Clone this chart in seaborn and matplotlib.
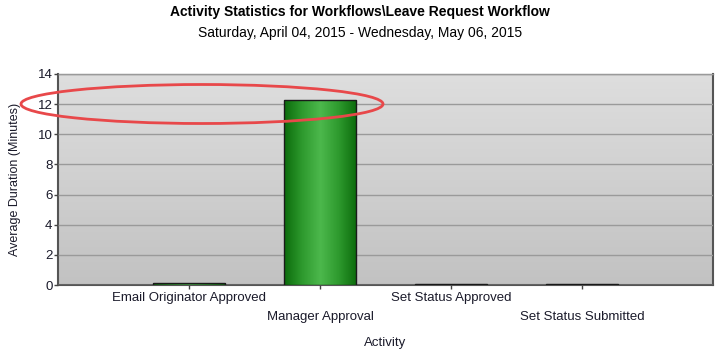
import numpy as np
import pandas as pd
import matplotlib
matplotlib.use("Agg")
import matplotlib.pyplot as plt
import seaborn as sns
from matplotlib.patches import Ellipse
from matplotlib.colors import LinearSegmentedColormap

activities = ["Email Originator Approved", "Manager Approval", "Set Status Approved", "Set Status Submitted"]
durations = [0.12, 12.25, 0.04, 0.04]
y_ticks = [0, 2, 4, 6, 8, 10, 12, 14]

title = "Activity Statistics for Workflows\\Leave Request Workflow"
subtitle = "Saturday, April 04, 2015 - Wednesday, May 06, 2015"

sns.set_style("white")
plt.rcParams['font.family'] = ['Liberation Sans', 'DejaVu Sans']

df = pd.DataFrame({"Activity": activities, "Duration": durations})

fig = plt.figure(figsize=(7.2, 3.52), dpi=100)
ax = fig.add_axes([58/720, 67/352, 655/720, 211/352])

sns.barplot(data=df, x="Activity", y="Duration", ax=ax, width=0.55,
            color="#1f8a1f", edgecolor="#1a1a1a", linewidth=1.0, zorder=3)

ax.set_xlim(-1.0, 4.0)
ax.set_ylim(0, 14)

# background gradient
bg = np.linspace(0, 1, 256).reshape(-1, 1)
bg_cmap = LinearSegmentedColormap.from_list("bg", ["#c2c2c2", "#dedede"])
ax.imshow(bg, aspect="auto", extent=(-1.0, 4.0, 0, 14), origin="lower",
          cmap=bg_cmap, zorder=0)

# gradient fill on bars
bar_cmap = LinearSegmentedColormap.from_list("bar", ["#0b6b0b", "#2e9a2e", "#4cb84c", "#2e9a2e", "#0b6b0b"])
grad = np.linspace(0, 1, 256).reshape(1, -1)
for p in ax.patches:
    x0, y0 = p.get_x(), p.get_y()
    w, h = p.get_width(), p.get_height()
    im = ax.imshow(grad, aspect="auto", extent=(x0, x0 + w, y0, y0 + h),
                   cmap=bar_cmap, zorder=3.5)
    im.set_clip_path(p)
    p.set_facecolor("none")
    p.set_zorder(4)

ax.set_yticks(y_ticks)
ax.set_yticklabels([str(v) for v in y_ticks])
ax.yaxis.grid(True, color="#9a9a9a", linewidth=1.0, zorder=1)
ax.set_axisbelow(False)
for line in ax.get_ygridlines():
    line.set_zorder(1)

ax.set_xticks(range(len(activities)))
ax.set_xticklabels([a if i % 2 == 0 else "\n" + a for i, a in enumerate(activities)])
ax.tick_params(axis="x", length=3, width=1, color="#444444", labelsize=9.5, pad=2, bottom=True)
ax.tick_params(axis="y", length=3, width=1, color="#444444", labelsize=9.5, pad=1, left=True)
for lab in ax.get_xticklabels():
    lab.set_linespacing(1.75)
for lab in ax.get_xticklabels() + ax.get_yticklabels():
    lab.set_color("#1a1a2a")

ax.set_xlabel("Activity", fontsize=9.5, color="#1a1a2a", labelpad=10)
ax.set_ylabel("Average Duration (Minutes)", fontsize=9, color="#1a1a2a", labelpad=12)

for side in ["left", "bottom", "right"]:
    ax.spines[side].set_color("#555555")
    ax.spines[side].set_linewidth(1.5)
ax.spines["top"].set_color("#888888")
ax.spines["top"].set_linewidth(1.0)

fig.text(0.5, 1 - 12/352, title, ha="center", va="center", fontsize=10, fontweight="bold", color="#000000")
fig.text(0.5, 1 - 33/352, subtitle, ha="center", va="center", fontsize=10, color="#000000")

# red highlight ellipse (figure inch coordinates)
ell = Ellipse((202/100, (352 - 104)/100), 362/100, 39/100, fill=False,
              edgecolor="#e8484a", linewidth=2.0, zorder=10, transform=fig.dpi_scale_trans)
fig.patches.append(ell)

fig.savefig("out.png", dpi=100)
